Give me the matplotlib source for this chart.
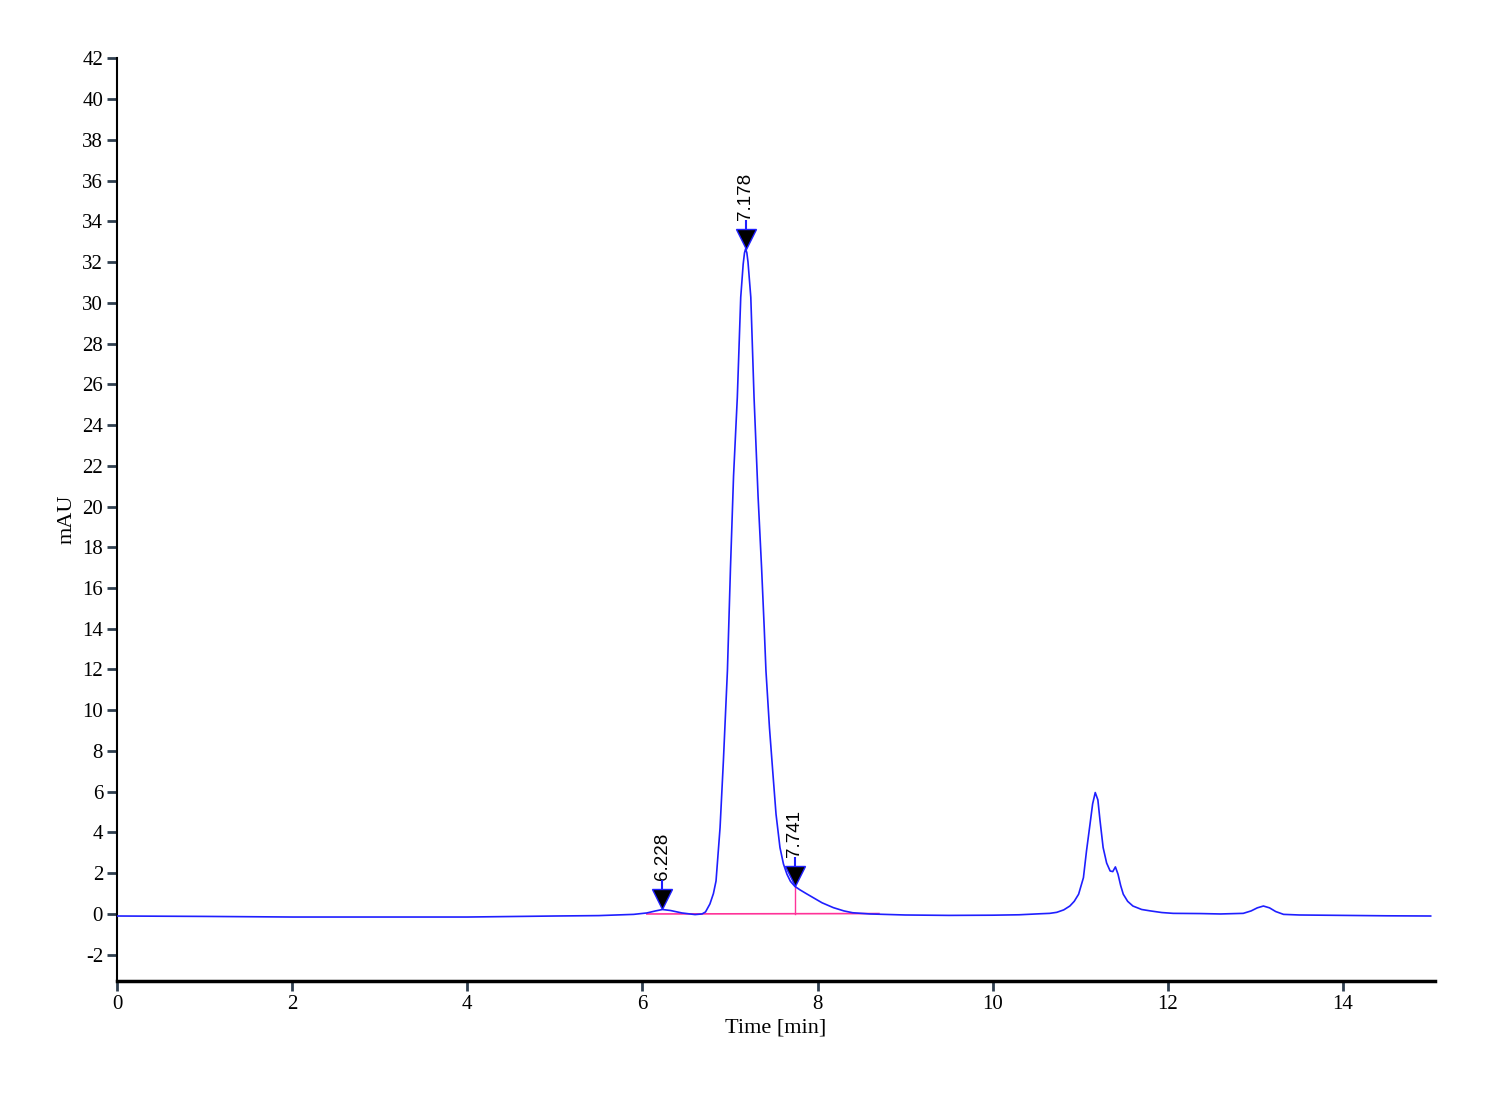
import matplotlib
matplotlib.use("Agg")
import matplotlib.pyplot as plt
from matplotlib.transforms import offset_copy

# ---- data ----
time_min = [0, 1, 2, 3, 4, 5, 5.5, 5.9, 6.05, 6.15, 6.228, 6.32, 6.45, 6.6, 6.68,
            6.72, 6.77, 6.81, 6.84, 6.886, 6.924, 6.97, 7.005, 7.04, 7.083, 7.122,
            7.15, 7.165, 7.178, 7.192, 7.205, 7.237, 7.274, 7.32, 7.36, 7.39, 7.41,
            7.45, 7.49, 7.525, 7.57, 7.61, 7.65, 7.69, 7.741, 7.80, 7.87, 7.95,
            8.05, 8.18, 8.30, 8.40, 8.6, 9.0, 9.5, 10.0, 10.3, 10.54, 10.65, 10.73,
            10.81, 10.88, 10.93, 10.98, 11.035, 11.07, 11.11, 11.14, 11.17, 11.20,
            11.225, 11.26, 11.30, 11.34, 11.37, 11.40, 11.43, 11.46, 11.49, 11.54,
            11.6, 11.7, 11.8, 11.93, 12.06, 12.37, 12.6, 12.86, 12.95, 13.02,
            13.09, 13.16, 13.23, 13.32, 13.5, 14.0, 14.5, 15.0]
signal_mau = [-0.10, -0.12, -0.15, -0.15, -0.15, -0.10, -0.08, -0.02, 0.05, 0.15,
              0.22, 0.17, 0.05, -0.03, 0.0, 0.10, 0.49, 1.0, 1.62, 4.24, 7.51,
              11.94, 17.0, 21.5, 25.36, 30.27, 31.9, 32.45, 32.65, 32.45, 32.0,
              30.27, 25.36, 20.5, 17.0, 14.06, 11.94, 9.15, 6.86, 4.9, 3.26, 2.45,
              1.95, 1.6, 1.35, 1.18, 1.0, 0.80, 0.55, 0.31, 0.15, 0.06, 0.0, -0.05,
              -0.07, -0.06, -0.04, 0.01, 0.03, 0.08, 0.2, 0.39, 0.62, 0.97, 1.78,
              3.09, 4.40, 5.4, 5.96, 5.6, 4.57, 3.26, 2.5, 2.11, 2.08, 2.31, 1.95,
              1.4, 0.97, 0.62, 0.39, 0.22, 0.15, 0.07, 0.03, 0.02, 0.0, 0.03, 0.15,
              0.3, 0.39, 0.3, 0.12, -0.02, -0.05, -0.07, -0.09, -0.10]

peak_times = [6.228, 7.178, 7.741]
peak_heights = [0.22, 32.65, 1.35]
peak_labels = ["6.228", "7.178", "7.741"]

baseline_x = [6.05, 8.7]
baseline_y = [0.0, 0.02]

x_ticks = [0, 2, 4, 6, 8, 10, 12, 14]
y_ticks = list(range(-2, 43, 2))

# ---- figure ----
fig = plt.figure(figsize=(15, 11), dpi=100)
ax = fig.add_axes([0.078, 0.108, 0.8787, 0.839])

blue = "#1f1fff"
pink = "#ff3399"

ax.plot(time_min, signal_mau, color=blue, lw=1.2, zorder=3)
ax.plot(baseline_x, baseline_y, color=pink, lw=1.2, zorder=2)
ax.plot([peak_times[2], peak_times[2]], [baseline_y[0] + 0.01, peak_heights[2]],
        color=pink, lw=1.0, zorder=2)

# peak markers: triangle tip on the apex, short stem and rotated label above
tri_tf = offset_copy(ax.transData, fig=fig, x=0, y=10, units="dots")
stem_tf = offset_copy(ax.transData, fig=fig, x=0, y=24, units="dots")
for t, h, lab in zip(peak_times, peak_heights, peak_labels):
    ax.plot([t], [h], marker="v", markersize=15, markerfacecolor="black",
            markeredgecolor=blue, markeredgewidth=1.0, transform=tri_tf,
            zorder=5, clip_on=False)
    ax.plot([t], [h], marker="|", markersize=7, markeredgecolor=blue,
            markeredgewidth=1.5, transform=stem_tf, zorder=4, clip_on=False)
    ax.annotate(lab, xy=(t, h), xytext=(0, 21), textcoords="offset points",
                rotation=90, ha="center", va="bottom", fontsize=13.5,
                family="Liberation Sans", color="black")

ax.set_xlim(0, 15.05)
ax.set_ylim(-3.3, 42)
ax.set_xticks(x_ticks)
ax.set_yticks(y_ticks)

serif = "Liberation Serif"
ax.set_xticklabels([str(v) for v in x_ticks], family=serif, fontsize=15)
ax.set_yticklabels([str(v) for v in y_ticks], family=serif, fontsize=15)
ax.tick_params(axis="both", direction="out", color="#2f3f4f", width=2,
               length=7, pad=3)

ax.set_xlabel("Time [min]", family=serif, fontsize=16, labelpad=3)
ax.set_ylabel("mAU", family=serif, fontsize=16, labelpad=4)

for s in ("top", "right"):
    ax.spines[s].set_visible(False)
ax.spines["left"].set_linewidth(1.5)
ax.spines["bottom"].set_linewidth(2.5)

fig.savefig("out.png", dpi=100)
